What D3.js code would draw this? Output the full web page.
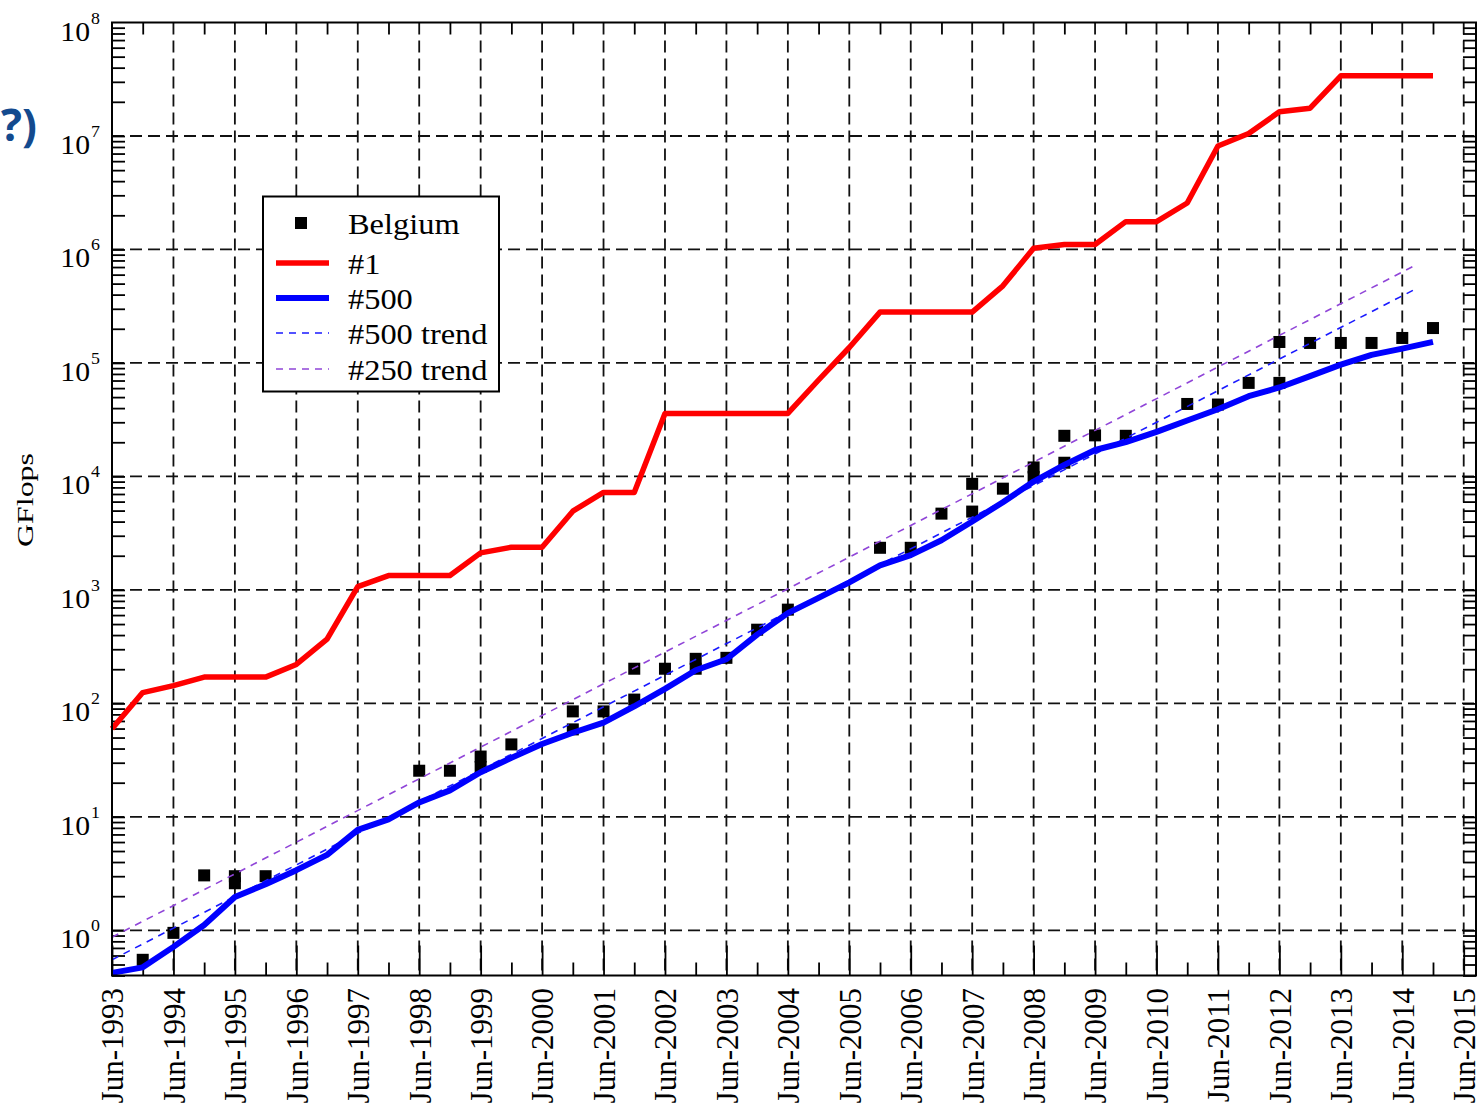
<!DOCTYPE html>
<html>
<head>
<meta charset="utf-8">
<script src="https://cdnjs.cloudflare.com/ajax/libs/d3/7.8.5/d3.min.js"></script>
<style>
  body { margin: 0; background: #fff; }
  svg { display: block; }
  text { font-family: "Liberation Serif", "Times New Roman", serif; fill: #000; }
</style>
</head>
<body>
<div id="chart"></div>
<script>
// TOP500 lists, June and November, placed half a year apart
var listDates = [1993.5, 1994.0, 1994.5, 1995.0, 1995.5, 1996.0, 1996.5, 1997.0, 1997.5, 1998.0,
  1998.5, 1999.0, 1999.5, 2000.0, 2000.5, 2001.0, 2001.5, 2002.0, 2002.5, 2003.0,
  2003.5, 2004.0, 2004.5, 2005.0, 2005.5, 2006.0, 2006.5, 2007.0, 2007.5, 2008.0,
  2008.5, 2009.0, 2009.5, 2010.0, 2010.5, 2011.0, 2011.5, 2012.0, 2012.5, 2013.0,
  2013.5, 2014.0, 2014.5, 2015.0];

// #1 system (GFlops)
var top1GF = [59.7, 124.5, 143.4, 170.4, 170.4, 170.4, 220.4, 368.2, 1068, 1338,
  1338, 1338, 2121, 2379, 2379, 4938, 7226, 7226, 35860, 35860,
  35860, 35860, 35860, 70720, 136800, 280600, 280600, 280600, 280600, 478200,
  1026000, 1105000, 1105000, 1759000, 1759000, 2566000, 8162000, 10510000, 16324750, 17590000,
  33862700, 33862700, 33862700, 33862700];

// #500 system (GFlops)
var top500GF = [0.422, 0.472, 0.715, 1.114, 1.964, 2.55, 3.39, 4.62, 7.67, 9.51,
  13.39, 17.12, 24.73, 33.1, 43.82, 55.1, 67.78, 94.3, 134.3, 195.8,
  244.9, 403.4, 624, 850.6, 1166, 1646, 2026, 2737, 4005, 5929,
  9000, 12640, 17090, 20050, 24670, 31120, 39090, 50940, 60820, 76500,
  96620, 117800, 133700, 153400];

// Belgian systems in the list
var belgiumDates = [1994.0, 1994.5, 1995.0, 1995.5, 1995.5, 1996.0, 1998.5, 1999.0, 1999.5, 1999.5,
  2000.0, 2001.0, 2001.0, 2001.5, 2002.0, 2002.0, 2002.5, 2003.0, 2003.0, 2003.5,
  2004.0, 2004.5, 2006.0, 2006.5, 2007.0, 2007.5, 2007.5, 2008.0, 2008.5, 2008.5,
  2009.0, 2009.0, 2009.5, 2010.0, 2011.0, 2011.5, 2012.0, 2012.5, 2012.5, 2013.0,
  2013.5, 2014.0, 2014.5, 2015.0];
var belgiumGF = [0.55, 0.95, 3.05, 3.0, 2.6, 3.0, 25.5, 25.5, 34, 27.5,
  43.5, 85, 59, 85, 202, 108, 202, 247, 202, 252,
  446, 670, 2350, 2350, 4700, 8600, 4900, 7800, 12000, 9900,
  22800, 13200, 23000, 22800, 43500, 43000, 66700, 153000, 66700, 150000,
  150000, 150000, 166000, 203000];

// trend lines (straight in log space), start and end
var trendDates = [1993.5, 2014.75];
var trend500GF = [0.55, 458000];
var trend250GF = [0.87, 743000];

// axis ticks
var xTickYears = [1993, 1994, 1995, 1996, 1997, 1998, 1999, 2000, 2001, 2002, 2003,
  2004, 2005, 2006, 2007, 2008, 2009, 2010, 2011, 2012, 2013, 2014, 2015];
var yDecades = [0, 1, 2, 3, 4, 5, 6, 7, 8];

var W = 1480, H = 1110;
var plot = {left: 112, top: 22.5, right: 1476, bottom: 975.5};

var svg = d3.select("#chart").append("svg")
  .attr("width", W)
  .attr("height", H);

var x = d3.scaleLinear().domain([1993.5, 2015.7]).range([plot.left, plot.right]);
var y = d3.scaleLog().domain([0.4, 1e8]).range([plot.bottom, plot.top]);

var junes = xTickYears.map(function(d) { return d + 0.5; });
var decs = xTickYears.slice(1).map(function(d) { return d; }).filter(function(d) { return d + 0 > 1993.5 && x(d) < plot.right; });

var minorY = [];
[-1, 0, 1, 2, 3, 4, 5, 6, 7].forEach(function(k) {
  for (var m = 1; m <= 9; m++) {
    var v = m * Math.pow(10, k);
    if (v >= 0.4 && v <= 1e8) minorY.push(v);
  }
});

// helper: text stretched a bit horizontally, like the original
function sText(g, str, tx, ty, size, sx, anchor) {
  return g.append("text")
    .attr("transform", "translate(" + tx + "," + ty + ") scale(" + sx + ",1)")
    .attr("font-size", size + "px")
    .attr("text-anchor", anchor || "start")
    .text(str);
}

// slide title fragment
svg.append("text")
  .attr("x", 37)
  .attr("y", 141)
  .attr("text-anchor", "end")
  .attr("font-family", "'Open Sans', 'Noto Sans', sans-serif")
  .attr("font-weight", "bold")
  .attr("font-size", "44px")
  .style("fill", "#134a8e")
  .style("font-family", "'Open Sans', 'Noto Sans', sans-serif")
  .text("?)");

// grid
var grid = svg.append("g").attr("class", "grid");
grid.selectAll("line.v")
  .data(junes.slice(1))
  .enter().append("line")
    .attr("class", "v")
    .attr("x1", function(d) { return x(d); })
    .attr("x2", function(d) { return x(d); })
    .attr("y1", plot.top)
    .attr("y2", plot.bottom)
    .attr("stroke", "#111")
    .attr("stroke-width", 1.8)
    .attr("stroke-dasharray", "12,6");
grid.selectAll("line.h")
  .data(yDecades.slice(0, 8))
  .enter().append("line")
    .attr("class", "h")
    .attr("x1", plot.left)
    .attr("x2", plot.right)
    .attr("y1", function(d) { return y(Math.pow(10, d)); })
    .attr("y2", function(d) { return y(Math.pow(10, d)); })
    .attr("stroke", "#111")
    .attr("stroke-width", 1.8)
    .attr("stroke-dasharray", "12,6");

// axes ticks (all inward)
function styleAxis(g) {
  g.select(".domain").remove();
  g.selectAll(".tick line").attr("stroke", "#000").attr("stroke-width", 1.8);
  g.selectAll(".tick text").remove();
}
svg.append("g")
  .attr("transform", "translate(0," + plot.bottom + ")")
  .call(d3.axisTop(x).tickValues(junes).tickSize(30).tickFormat(""))
  .call(styleAxis);
svg.append("g")
  .attr("transform", "translate(0," + plot.bottom + ")")
  .call(d3.axisTop(x).tickValues(decs).tickSize(13).tickFormat(""))
  .call(styleAxis);
svg.append("g")
  .attr("transform", "translate(0," + plot.top + ")")
  .call(d3.axisBottom(x).tickValues(decs).tickSize(12).tickFormat(""))
  .call(styleAxis);
svg.append("g")
  .attr("transform", "translate(" + plot.left + ",0)")
  .call(d3.axisRight(y).tickValues(minorY).tickSize(13).tickFormat(""))
  .call(styleAxis);
svg.append("g")
  .attr("transform", "translate(" + plot.right + ",0)")
  .call(d3.axisLeft(y).tickValues(minorY).tickSize(13).tickFormat(""))
  .call(styleAxis);

// x labels, rotated
var xLab = svg.append("g")
  .attr("transform", "translate(0," + plot.bottom + ")")
  .call(d3.axisBottom(x).tickValues(junes).tickSize(0)
    .tickFormat(function(d) { return "Jun-" + Math.floor(d); }));
xLab.select(".domain").remove();
xLab.selectAll(".tick text")
  .attr("font-family", "'Liberation Serif', serif")
  .attr("font-size", "31px")
  .attr("fill", "#000")
  .attr("text-anchor", "end")
  .attr("transform", "rotate(-90)")
  .attr("x", -12.5)
  .attr("y", 0)
  .attr("dy", "0.35em");

// y labels: 10^k
var yLab = svg.append("g");
yDecades.forEach(function(k) {
  var yy = y(Math.pow(10, k));
  sText(yLab, "10", 90, yy + 18, 27, 1.1, "end");
  sText(yLab, String(k), 91, yy + 1, 17, 1.05, "start");
});

// y title
svg.append("text")
  .attr("transform", "translate(33,500) rotate(-90) scale(1.33,1)")
  .attr("font-size", "24px")
  .attr("text-anchor", "middle")
  .text("GFlops");

// Belgium squares
var sq = 12;
svg.append("g").selectAll("rect")
  .data(d3.zip(belgiumDates, belgiumGF))
  .enter().append("rect")
    .attr("x", function(d) { return x(d[0]) - sq / 2; })
    .attr("y", function(d) { return y(d[1]) - sq / 2; })
    .attr("width", sq)
    .attr("height", sq)
    .attr("fill", "#000");

var line = d3.line()
  .x(function(d) { return x(d[0]); })
  .y(function(d) { return y(d[1]); });

// trends
svg.append("path")
  .datum(d3.zip(trendDates, trend250GF))
  .attr("d", line)
  .attr("fill", "none")
  .attr("stroke", "#9045d8")
  .attr("stroke-width", 1.6)
  .attr("stroke-dasharray", "7,6");
svg.append("path")
  .datum(d3.zip(trendDates, trend500GF))
  .attr("d", line)
  .attr("fill", "none")
  .attr("stroke", "#1a1aff")
  .attr("stroke-width", 1.6)
  .attr("stroke-dasharray", "7,6");

// #500 and #1
svg.append("path")
  .datum(d3.zip(listDates, top500GF))
  .attr("d", line)
  .attr("fill", "none")
  .attr("stroke", "#0000ff")
  .attr("stroke-width", 6)
  .attr("stroke-linejoin", "round");
svg.append("path")
  .datum(d3.zip(listDates, top1GF))
  .attr("d", line)
  .attr("fill", "none")
  .attr("stroke", "#ff0000")
  .attr("stroke-width", 5.5)
  .attr("stroke-linejoin", "round");

// frame
svg.append("rect")
  .attr("x", plot.left)
  .attr("y", plot.top)
  .attr("width", plot.right - plot.left)
  .attr("height", plot.bottom - plot.top)
  .attr("fill", "none")
  .attr("stroke", "#000")
  .attr("stroke-width", 2);

// legend
var leg = svg.append("g");
leg.append("rect")
  .attr("x", 263).attr("y", 196.5)
  .attr("width", 236).attr("height", 195)
  .attr("fill", "#fff")
  .attr("stroke", "#000")
  .attr("stroke-width", 2);
var legItems = [
  {name: "Belgium", type: "square", color: "#000", y: 223},
  {name: "#1", type: "line", color: "#ff0000", y: 263, w: 5.5},
  {name: "#500", type: "line", color: "#0000ff", y: 298, w: 6},
  {name: "#500 trend", type: "dash", color: "#1a1aff", y: 333, w: 1.6},
  {name: "#250 trend", type: "dash", color: "#9045d8", y: 369, w: 1.6}
];
legItems.forEach(function(it) {
  if (it.type == "square") {
    leg.append("rect")
      .attr("x", 301 - sq / 2).attr("y", it.y - sq / 2)
      .attr("width", sq).attr("height", sq)
      .attr("fill", it.color);
  } else {
    leg.append("line")
      .attr("x1", 276).attr("x2", 329)
      .attr("y1", it.y).attr("y2", it.y)
      .attr("stroke", it.color)
      .attr("stroke-width", it.w)
      .attr("stroke-dasharray", it.type == "dash" ? "7,6" : null);
  }
  sText(leg, it.name, 348, it.y + 11, 30, 1.08, "start");
});
</script>
</body>
</html>
